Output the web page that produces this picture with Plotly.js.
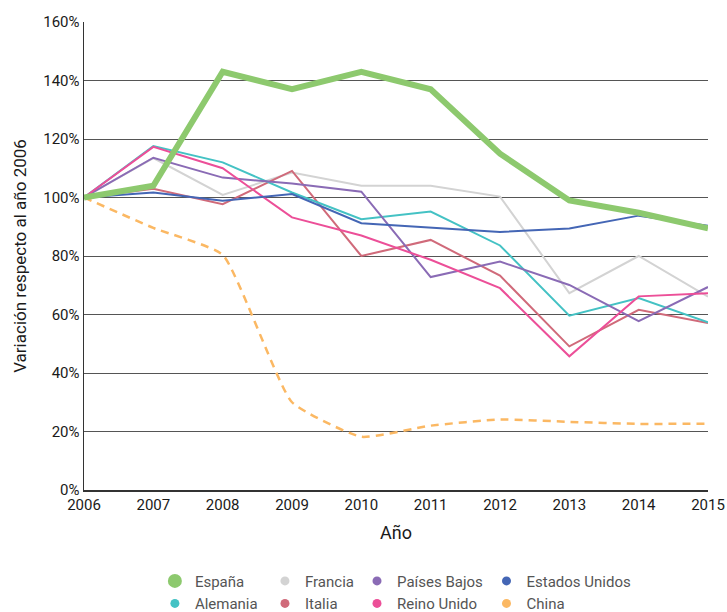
<!DOCTYPE html>
<html>
<head>
<meta charset="utf-8">
<script src="https://cdn.plot.ly/plotly-3.0.1.min.js"></script>
<style>html,body{margin:0;padding:0;background:#fff;}#chart{width:727px;height:612px;}</style>
</head>
<body>
<div id="chart"></div>
<script>
const years = [2006, 2007, 2008, 2009, 2010, 2011, 2012, 2013, 2014, 2015];

const espana        = [100, 104, 143, 137, 143, 137, 115, 99, 94.8, 89.5];
const francia       = [100, 113.5, 100.9, 108.5, 104, 104, 100.3, 67.3, 80, 66.1];
const paisesBajos   = [100, 113.6, 106.8, 104.8, 102, 72.8, 78.1, 70.1, 57.7, 69.4];
const estadosUnidos = [100, 101.7, 98.9, 101.2, 91.2, 89.8, 88.2, 89.4, 93.8, 90.3];
const alemania      = [100, 117.6, 112, 101.7, 92.6, 95.2, 83.6, 59.6, 65.6, 57.3];
const italia        = [100, 103, 97.7, 109.1, 80, 85.5, 73.3, 49.1, 61.6, 57.1];
const reinoUnido    = [100, 117.3, 110, 93.2, 87, 78.7, 69, 45.7, 66.2, 67.3];
const china         = [100, 89.6, 80.4, 30, 18.2, 22, 24.1, 23.3, 22.6, 22.7];

const names  = ['España', 'Francia', 'Países Bajos', 'Estados Unidos', 'Alemania', 'Italia', 'Reino Unido', 'China'];
const values = [espana, francia, paisesBajos, estadosUnidos, alemania, italia, reinoUnido, china];
const colors = ['#8dc96e', '#d3d3d3', '#8a6bb5', '#4466b5', '#44c2c4', '#d06a7a', '#ec4f98', '#fbb863'];

const yTicks = [0, 20, 40, 60, 80, 100, 120, 140, 160];
const yTickText = yTicks.map(v => v + '%');

const traces = [];
// draw order: back to front
const drawOrder = [1, 7, 5, 4, 2, 6, 3, 0];
drawOrder.forEach(i => {
  const isChina = names[i] === 'China';
  const isEsp = names[i] === 'España';
  traces.push({
    x: years, y: values[i], type: 'scatter', mode: 'lines', name: names[i],
    showlegend: false, hoverinfo: 'skip',
    line: {
      color: colors[i],
      width: isEsp ? 6 : (isChina ? 2.5 : 2),
      dash: isChina ? '8px,6px' : 'solid',
      shape: isChina ? 'spline' : 'linear',
      smoothing: isChina ? 0.45 : undefined
    }
  });
});
// legend entries: 4 columns of 2 rows, one legend per column
const legendIds = ['legend', 'legend2', 'legend3', 'legend4'];
names.forEach((n, i) => {
  traces.push({
    x: [null], y: [null], type: 'scatter', mode: 'markers', name: n,
    marker: { color: colors[i], size: n === 'España' ? 14 : 9 },
    showlegend: true, legend: legendIds[i % 4]
  });
});

const legendX = [0.1136, 0.290, 0.4375, 0.645];
function mkLegend(x) {
  return {
    orientation: 'v', x: x, xanchor: 'left', y: -0.1595, yanchor: 'top',
    font: { size: 15, color: '#555' }, traceorder: 'normal',
    itemwidth: 30, tracegroupgap: 0, bgcolor: 'rgba(0,0,0,0)'
  };
}

const layout = {
  width: 727, height: 612,
  margin: { l: 84, r: 19, t: 22, b: 121.5, autoexpand: false },
  paper_bgcolor: '#fff', plot_bgcolor: '#fff',
  font: { family: 'Roboto, "Noto Sans", sans-serif', color: '#222' },
  showlegend: true,
  legend: mkLegend(legendX[0]),
  legend2: mkLegend(legendX[1]),
  legend3: mkLegend(legendX[2]),
  legend4: mkLegend(legendX[3]),
  xaxis: {
    range: [2006, 2015], tickvals: years, ticktext: years.map(String),
    tickfont: { size: 15, color: '#1a1a1a' },
    showgrid: false, zeroline: false, automargin: false,
    showline: true, linecolor: '#333', linewidth: 1.5,
    ticks: '', ticklen: 0,
    title: { text: 'Año', font: { size: 18, color: '#1a1a1a' }, standoff: 14 }
  },
  yaxis: {
    range: [0, 160], tickvals: yTicks, ticktext: yTickText,
    tickfont: { size: 15, color: '#1a1a1a' },
    showgrid: true, gridcolor: '#555', gridwidth: 1, automargin: false,
    zeroline: false, showline: true, linecolor: '#333', linewidth: 1.5,
    ticks: '', ticklen: 0,
    title: { text: 'Variación respecto al año 2006', font: { size: 17, color: '#1a1a1a' }, standoff: 12 }
  }
};

Plotly.newPlot('chart', traces, layout, { displayModeBar: false, staticPlot: true });
</script>
</body>
</html>
